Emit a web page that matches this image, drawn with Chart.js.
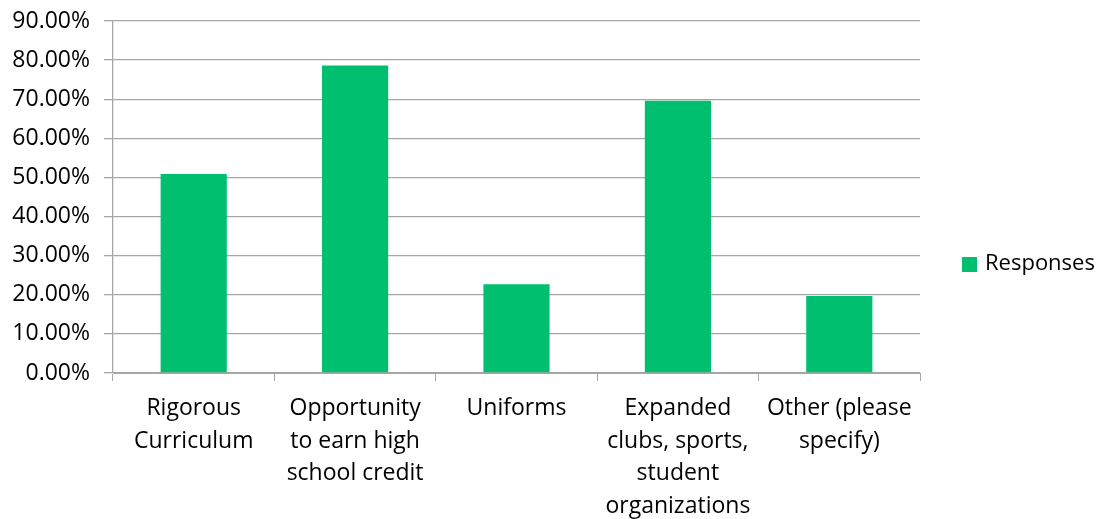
<!DOCTYPE html>
<html>
<head>
<meta charset="utf-8">
<script src="https://cdn.jsdelivr.net/npm/chart.js@4/dist/chart.umd.min.js"></script>
<style>
  html, body { margin: 0; padding: 0; background: #fff; }
  #wrap { width: 1101px; height: 519px; }
</style>
</head>
<body>
<div id="wrap"><canvas id="myChart" width="1101" height="519"></canvas></div>
<script>
// categories (wrapped the way the original shows them)
const categories = [
  ['Rigorous', 'Curriculum'],
  ['Opportunity', 'to earn high', 'school credit'],
  ['Uniforms'],
  ['Expanded', 'clubs, sports,', 'student', 'organizations'],
  ['Other (please', 'specify)']
];
const responses = [0.509, 0.786, 0.227, 0.696, 0.197];
const seriesName = 'Responses';
const yTicks = [0, 0.1, 0.2, 0.3, 0.4, 0.5, 0.6, 0.7, 0.8, 0.9];

const barColor = 'rgb(0,191,111)';
const gridColor = '#a6a6a6';
const fontFamily = '"Open Sans", sans-serif';

// legend drawn by hand so it sits where the original has it
const sideLegend = {
  id: 'sideLegend',
  afterDraw(chart) {
    const ctx = chart.ctx;
    ctx.save();
    ctx.fillStyle = barColor;
    ctx.fillRect(962, 257, 15, 15);
    ctx.fillStyle = '#000';
    ctx.font = '22px ' + fontFamily;
    ctx.textBaseline = 'middle';
    ctx.textAlign = 'left';
    ctx.fillText(seriesName, 985, 264);
    ctx.restore();
  }
};

const ctx = document.getElementById('myChart');
new Chart(ctx, {
  type: 'bar',
  data: {
    labels: categories,
    datasets: [{
      label: seriesName,
      data: responses,
      backgroundColor: barColor,
      borderWidth: 0,
      categoryPercentage: 1,
      barPercentage: 0.41
    }]
  },
  options: {
    responsive: false,
    animation: false,
    layout: { padding: { top: 21, right: 181, left: 0, bottom: 0 } },
    plugins: {
      legend: { display: false },
      tooltip: { enabled: false }
    },
    scales: {
      x: {
        grid: {
          display: true,
          offset: true,
          drawOnChartArea: false,
          drawTicks: true,
          tickLength: 8,
          color: gridColor
        },
        border: { color: gridColor },
        ticks: {
          color: '#000',
          maxRotation: 0,
          autoSkip: false,
          padding: 11,
          font: { family: fontFamily, size: 23, lineHeight: 1.42 }
        },
        afterFit(scale) { scale.height = 146; scale.paddingLeft = 0; scale.paddingRight = 0; }
      },
      y: {
        min: 0,
        max: 0.9,
        afterBuildTicks(scale) { scale.ticks = yTicks.map(v => ({ value: v })); },
        grid: {
          color: gridColor,
          lineWidth: 1.3,
          tickLength: 9,
          drawTicks: true
        },
        border: { color: gridColor, width: 1.3 },
        ticks: {
          color: '#000',
          padding: 14,
          font: { family: fontFamily, size: 23 },
          callback: v => (v * 100).toFixed(2) + '%'
        },
        afterFit(scale) { scale.width = 113; scale.paddingTop = 0; scale.paddingBottom = 0; }
      }
    }
  },
  plugins: [sideLegend]
});
</script>
</body>
</html>
